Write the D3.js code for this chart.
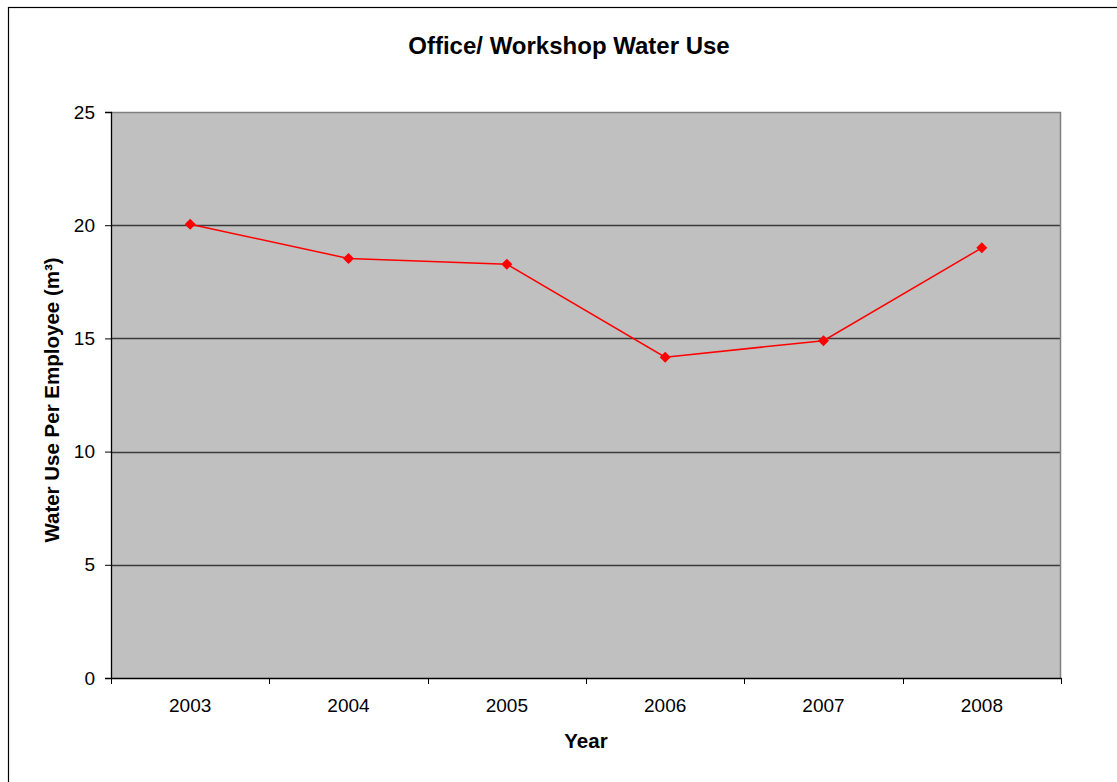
<!DOCTYPE html>
<html>
<head>
<meta charset="utf-8">
<script src="https://cdn.jsdelivr.net/npm/d3@7"></script>
<style>
  html, body { margin: 0; padding: 0; background: #fff; }
  svg { display: block; font-family: "Liberation Sans", Arial, sans-serif; }
</style>
</head>
<body>
<svg id="chart" width="1117" height="782"></svg>
<script>
const categories = ["2003", "2004", "2005", "2006", "2007", "2008"];
const values = [20.04, 18.53, 18.28, 14.17, 14.90, 19.00];
const yTicks = [0, 5, 10, 15, 20, 25];
const chartTitle = "Office/ Workshop Water Use";
const xTitle = "Year";
const yTitle = "Water Use Per Employee (m³)";

const svg = d3.select("#chart");
const W = 1117, H = 782;
const plot = { left: 111, right: 1061, top: 112, bottom: 678 };

// outer chart border (extends past the visible area)
svg.append("rect")
  .attr("x", 8.5).attr("y", 7.5)
  .attr("width", W + 50).attr("height", H + 50)
  .attr("fill", "#fff").attr("stroke", "#000").attr("stroke-width", 1.2);

const x = d3.scaleBand().domain(categories).range([plot.left, plot.right]).padding(0);
const y = d3.scaleLinear().domain([0, 25]).range([plot.bottom, plot.top]);

// plot background
svg.append("rect")
  .attr("x", plot.left).attr("y", plot.top)
  .attr("width", plot.right - plot.left).attr("height", plot.bottom - plot.top)
  .attr("fill", "#c0c0c0");

// gridlines
svg.append("g").selectAll("line")
  .data(yTicks.filter(d => d > 0 && d < 25))
  .join("line")
  .attr("x1", plot.left).attr("x2", plot.right)
  .attr("y1", d => Math.round(y(d)) + 0.5).attr("y2", d => Math.round(y(d)) + 0.5)
  .attr("stroke", "#3a3a3a").attr("stroke-width", 1.4);

// plot border top/right
svg.append("path")
  .attr("d", `M${plot.left},${plot.top + 0.5}H${plot.right - 0.5}V${plot.bottom}`)
  .attr("fill", "none").attr("stroke", "#808080").attr("stroke-width", 1.5);

// Y axis
const yAxis = d3.axisLeft(y).tickValues(yTicks).tickSize(6).tickPadding(10).tickFormat(d3.format("d"));
const gy = svg.append("g").attr("transform", `translate(${plot.left},0)`).call(yAxis);
gy.select(".domain").attr("stroke", "#000").attr("stroke-width", 1.3);
gy.selectAll(".tick line").attr("stroke", "#000");
gy.selectAll(".tick text").attr("font-size", 19).attr("fill", "#000")
  .attr("font-family", "Liberation Sans, Arial, sans-serif");

// X axis
const xAxis = d3.axisBottom(x).tickSize(0).tickPadding(21);
const gx = svg.append("g").attr("transform", `translate(0,${plot.bottom})`).call(xAxis);
gx.select(".domain").attr("stroke", "#000").attr("stroke-width", 1.5);
gx.selectAll(".tick text").attr("font-size", 19).attr("fill", "#000")
  .attr("font-family", "Liberation Sans, Arial, sans-serif");
// tick marks at category boundaries
const bounds = categories.map(c => x(c)).concat([x(categories[categories.length - 1]) + x.bandwidth()]);
gx.selectAll(".bound").data(bounds).join("line").attr("class", "bound")
  .attr("x1", d => Math.round(d) + 0.5).attr("x2", d => Math.round(d) + 0.5)
  .attr("y1", 0).attr("y2", 6).attr("stroke", "#000");

// line
const line = d3.line()
  .x((d, i) => x(categories[i]) + x.bandwidth() / 2)
  .y(d => y(d));
svg.append("path").datum(values)
  .attr("d", line).attr("fill", "none").attr("stroke", "#ff0000").attr("stroke-width", 1.5);

// diamond markers
svg.append("g").selectAll("path")
  .data(values)
  .join("path")
  .attr("transform", (d, i) => `translate(${x(categories[i]) + x.bandwidth() / 2},${y(d)})`)
  .attr("d", "M0,-5.5L5.5,0L0,5.5L-5.5,0Z")
  .attr("fill", "#ff0000");

// titles
svg.append("text")
  .attr("x", 569).attr("y", 54)
  .attr("text-anchor", "middle").attr("font-size", 24).attr("font-weight", "bold")
  .text(chartTitle);

svg.append("text")
  .attr("x", 586).attr("y", 748)
  .attr("text-anchor", "middle").attr("font-size", 20.5).attr("font-weight", "bold")
  .text(xTitle);

svg.append("text")
  .attr("transform", "translate(59,400) rotate(-90)")
  .attr("text-anchor", "middle").attr("font-size", 20.5).attr("font-weight", "bold")
  .text(yTitle);
</script>
</body>
</html>
